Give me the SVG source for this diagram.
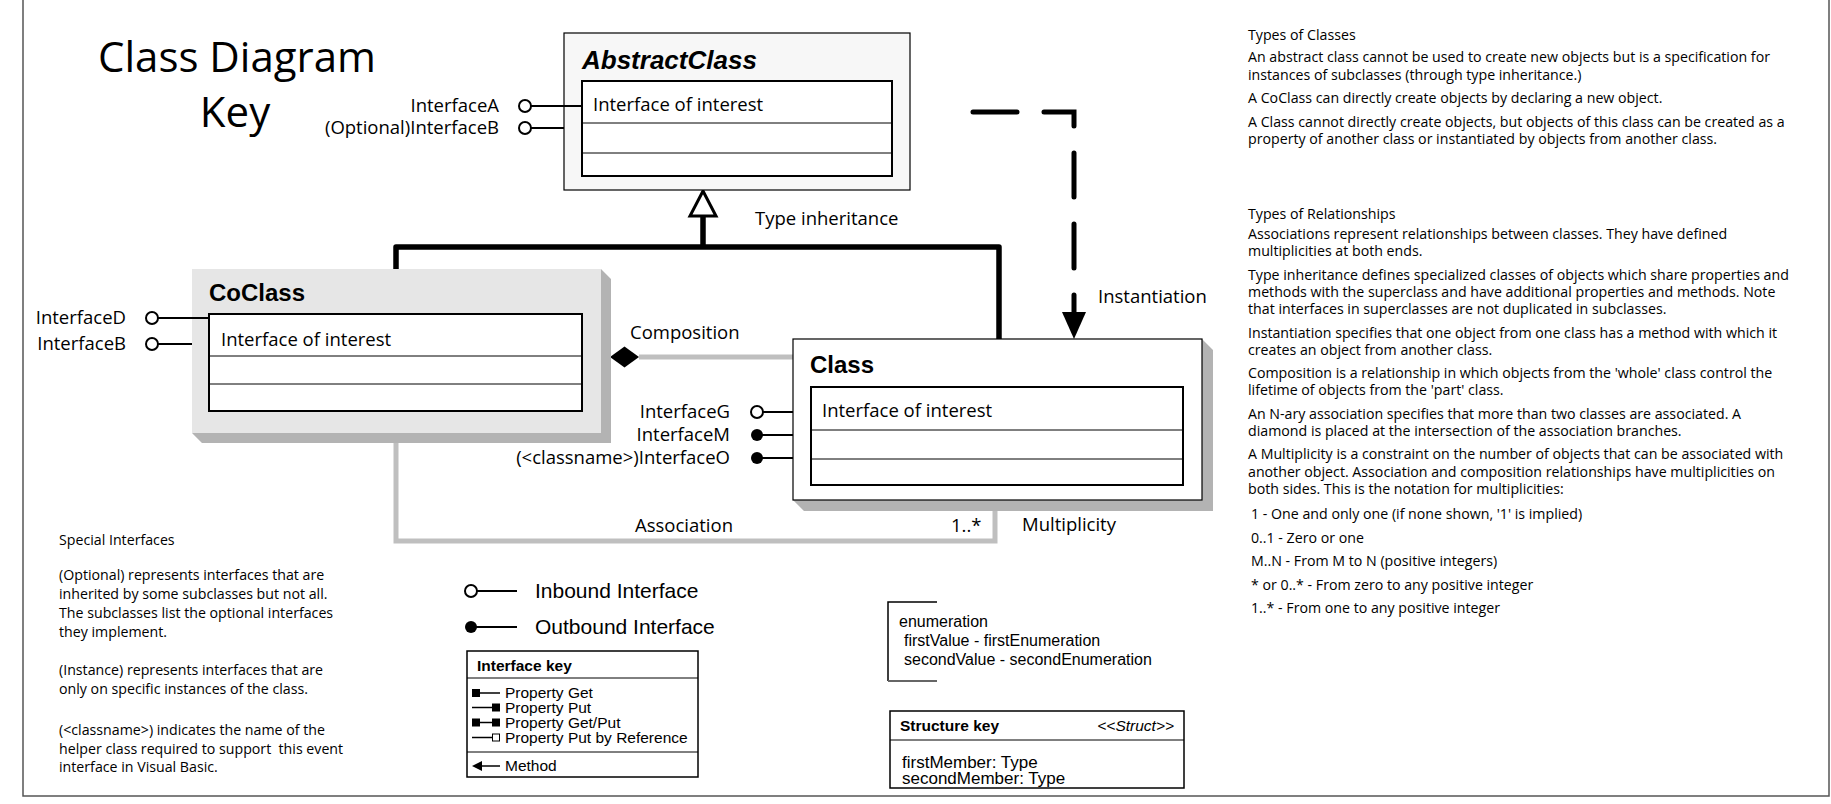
<svg xmlns="http://www.w3.org/2000/svg" width="1831" height="804" viewBox="0 0 1831 804">
<style>
.t{font-family:"Open Sans","Noto Sans",sans-serif;fill:#000}
.lbl{font-size:18.5px}
.note{font-size:14.2px;white-space:pre}
.end{text-anchor:end}
.a{font-family:"Liberation Sans",Arial,sans-serif;fill:#000}
.ttl{font-weight:bold;font-size:24px}
.box{fill:#fff;stroke:#000;stroke-width:2}
.row{stroke:#000;stroke-width:1}
.stem{stroke:#000;stroke-width:2}
.hollow{fill:#fff;stroke:#000;stroke-width:2}
.solid{fill:#000}
.gray{fill:none;stroke:#bfbfbf;stroke-width:5}
.thick{fill:none;stroke:#000;stroke-width:5.5;stroke-linejoin:round}
.bevel{fill:#b3b3b3}
.key{font-size:15.5px}
</style>
<rect x="0" y="0" width="1831" height="804" fill="#fff"/>
<rect x="23" y="-10" width="1806" height="806" fill="none" stroke="#555" stroke-width="1.5"/>

<g id="title">
<text class="t" x="237" y="72" font-size="42" text-anchor="middle">Class Diagram</text>
<text class="t" x="235" y="127" font-size="42" text-anchor="middle">Key</text>
</g>

<g id="connectors">
<polygon points="703,191 716,216 690,216" fill="#fff" stroke="#000" stroke-width="3"/>
<path class="thick" d="M703,216 V247 M396,269 V247 H999 V339"/>
<path d="M973,112 H1074 V312" fill="none" stroke="#000" stroke-width="5" stroke-dasharray="44 27" stroke-linecap="round"/>
<polygon points="1062,312 1086,312 1074,339" fill="#000"/>
<path class="gray" d="M639,357 H793"/>
<polygon points="610,357 624.5,346.5 639,357 624.5,367.5" fill="#000"/>
<path class="gray" d="M396,433 V541 H995 V511"/>
<text class="t lbl" x="755" y="225">Type inheritance</text>
<text class="t lbl" x="1098" y="303">Instantiation</text>
<text class="t lbl" x="630" y="339">Composition</text>
<text class="t lbl" x="635" y="532">Association</text>
<text class="t lbl" x="951" y="532">1..*</text>
<text class="t lbl" x="1022" y="531">Multiplicity</text>
</g>

<g id="AbstractClass">
<rect x="564" y="33" width="346" height="157" fill="#f7f7f7" stroke="#000" stroke-width="1.2"/>
<text class="a" x="582" y="69" font-size="26" font-weight="bold" font-style="italic">AbstractClass</text>
<rect class="box" x="582" y="81" width="310" height="95"/>
<line class="row" x1="582" y1="123" x2="892" y2="123"/>
<line class="row" x1="582" y1="153" x2="892" y2="153"/>
<text class="t lbl" x="593" y="111">Interface of interest</text>
<line class="stem" x1="531" y1="106" x2="582" y2="106"/>
<circle class="hollow" cx="525" cy="106" r="6"/>
<text class="t lbl end" x="499" y="112">InterfaceA</text>
<line class="stem" x1="531" y1="128" x2="564" y2="128"/>
<circle class="hollow" cx="525" cy="128" r="6"/>
<text class="t lbl end" x="499" y="134">(Optional)InterfaceB</text>
</g>

<g id="CoClass">
<polygon class="bevel" points="601,269 611,279 611,443 202,443 192,433 601,433"/>
<rect x="192" y="269" width="409" height="164" fill="#e6e6e6"/>
<text class="a ttl" x="209" y="301">CoClass</text>
<rect class="box" x="209" y="314" width="373" height="97"/>
<line class="row" x1="209" y1="356" x2="582" y2="356"/>
<line class="row" x1="209" y1="384" x2="582" y2="384"/>
<text class="t lbl" x="221" y="346">Interface of interest</text>
<line class="stem" x1="158" y1="318" x2="209" y2="318"/>
<circle class="hollow" cx="152" cy="318" r="6"/>
<text class="t lbl end" x="126" y="324">InterfaceD</text>
<line class="stem" x1="158" y1="344" x2="192" y2="344"/>
<circle class="hollow" cx="152" cy="344" r="6"/>
<text class="t lbl end" x="126" y="350">InterfaceB</text>
</g>

<g id="Class">
<polygon class="bevel" points="1202,339 1213,350 1213,511 804,511 793,500 1202,500"/>
<rect x="793" y="339" width="409" height="161" fill="#fff" stroke="#000" stroke-width="1.2"/>
<text class="a ttl" x="810" y="373">Class</text>
<rect class="box" x="811" y="387" width="372" height="98"/>
<line class="row" x1="811" y1="430" x2="1183" y2="430"/>
<line class="row" x1="811" y1="459" x2="1183" y2="459"/>
<text class="t lbl" x="822" y="417">Interface of interest</text>
<line class="stem" x1="763" y1="412" x2="793" y2="412"/>
<circle class="hollow" cx="757" cy="412" r="6"/>
<text class="t lbl end" x="730" y="418">InterfaceG</text>
<line class="stem" x1="757" y1="435" x2="793" y2="435"/>
<circle class="solid" cx="757" cy="435" r="6"/>
<text class="t lbl end" x="730" y="441">InterfaceM</text>
<line class="stem" x1="757" y1="458" x2="793" y2="458"/>
<circle class="solid" cx="757" cy="458" r="6"/>
<text class="t lbl end" x="730" y="464">(&lt;classname&gt;)InterfaceO</text>
</g>

<g id="interface-legend">
<line class="stem" x1="477" y1="591" x2="517" y2="591" stroke-width="1.5"/>
<circle class="hollow" cx="471" cy="591" r="6" stroke-width="1.5"/>
<text class="a" x="535" y="598" font-size="21">Inbound Interface</text>
<line class="stem" x1="471" y1="627" x2="517" y2="627" stroke-width="1.5"/>
<circle class="solid" cx="471" cy="627" r="6"/>
<text class="a" x="535" y="634" font-size="21">Outbound Interface</text>
</g>

<g id="interface-key">
<rect x="467" y="651" width="231" height="126" fill="#fff" stroke="#000" stroke-width="1.5"/>
<text class="a key" x="477" y="671" font-weight="bold">Interface key</text>
<line x1="467" y1="678" x2="698" y2="678" stroke="#000" stroke-width="1"/>
<rect x="472" y="689" width="8" height="8" fill="#000"/>
<line x1="480" y1="693" x2="500" y2="693" stroke="#000" stroke-width="1.5"/>
<text class="a key" x="505" y="698">Property Get</text>
<line x1="472" y1="707.5" x2="492" y2="707.5" stroke="#000" stroke-width="1.5"/>
<rect x="492" y="703.5" width="8" height="8" fill="#000"/>
<text class="a key" x="505" y="712.5">Property Put</text>
<rect x="472" y="718.5" width="8" height="8" fill="#000"/>
<line x1="480" y1="722.5" x2="492" y2="722.5" stroke="#000" stroke-width="1.5"/>
<rect x="492" y="718.5" width="8" height="8" fill="#000"/>
<text class="a key" x="505" y="727.5">Property Get/Put</text>
<line x1="472" y1="737.5" x2="492" y2="737.5" stroke="#000" stroke-width="1.5"/>
<rect x="492.5" y="734" width="7" height="7" fill="#fff" stroke="#000" stroke-width="1"/>
<text class="a key" x="505" y="742.5">Property Put by Reference</text>
<line x1="467" y1="752" x2="698" y2="752" stroke="#000" stroke-width="1"/>
<polygon points="472,766 482,761 482,771" fill="#000"/>
<line x1="482" y1="766" x2="500" y2="766" stroke="#000" stroke-width="1.5"/>
<text class="a key" x="505" y="771">Method</text>
</g>

<g id="enumeration">
<path d="M937,602 H888 V681" fill="none" stroke="#000" stroke-width="1.5"/>
<path d="M888,681 H937" fill="none" stroke="#666" stroke-width="2.2"/>
<text class="a" x="899" y="627" font-size="16">enumeration</text>
<text class="a" x="904" y="646" font-size="16">firstValue - firstEnumeration</text>
<text class="a" x="904" y="665" font-size="16">secondValue - secondEnumeration</text>
</g>

<g id="structure-key">
<rect x="890" y="711" width="294" height="77" fill="#fff" stroke="#000" stroke-width="1.5"/>
<text class="a" x="900" y="731" font-size="15.5" font-weight="bold">Structure key</text>
<text class="a" x="1174" y="731" font-size="15.5" font-style="italic" text-anchor="end">&lt;&lt;Struct&gt;&gt;</text>
<line x1="890" y1="740" x2="1184" y2="740" stroke="#000" stroke-width="1"/>
<text class="a" x="902" y="768" font-size="17">firstMember: Type</text>
<text class="a" x="902" y="784" font-size="17">secondMember: Type</text>
</g>

<g id="special-interfaces">
<text class="t note" x="59" y="545">Special Interfaces</text>
<text class="t note" x="59" y="580">(Optional) represents interfaces that are</text>
<text class="t note" x="59" y="599">inherited by some subclasses but not all.</text>
<text class="t note" x="59" y="618">The subclasses list the optional interfaces</text>
<text class="t note" x="59" y="637">they implement.</text>
<text class="t note" x="59" y="675">(Instance) represents interfaces that are</text>
<text class="t note" x="59" y="694">only on specific instances of the class.</text>
<text class="t note" x="59" y="735">(&lt;classname&gt;) indicates the name of the</text>
<text class="t note" x="59" y="754">helper class required to support  this event</text>
<text class="t note" x="59" y="772">interface in Visual Basic.</text>
</g>

<g id="class-notes">
<text class="t note" x="1248" y="40">Types of Classes</text>
<text class="t note" x="1248" y="62">An abstract class cannot be used to create new objects but is a specification for</text>
<text class="t note" x="1248" y="79.5">instances of subclasses (through type inheritance.)</text>
<text class="t note" x="1248" y="103">A CoClass can directly create objects by declaring a new object.</text>
<text class="t note" x="1248" y="126.5">A Class cannot directly create objects, but objects of this class can be created as a</text>
<text class="t note" x="1248" y="144">property of another class or instantiated by objects from another class.</text>
</g>

<g id="relationship-notes">
<text class="t note" x="1248" y="218.5">Types of Relationships</text>
<text class="t note" x="1248" y="239">Associations represent relationships between classes. They have defined</text>
<text class="t note" x="1248" y="256.3">multiplicities at both ends.</text>
<text class="t note" x="1248" y="279.6">Type inheritance defines specialized classes of objects which share properties and</text>
<text class="t note" x="1248" y="296.9">methods with the superclass and have additional properties and methods. Note</text>
<text class="t note" x="1248" y="314.2">that interfaces in superclasses are not duplicated in subclasses.</text>
<text class="t note" x="1248" y="337.5">Instantiation specifies that one object from one class has a method with which it</text>
<text class="t note" x="1248" y="354.8">creates an object from another class.</text>
<text class="t note" x="1248" y="378.1">Composition is a relationship in which objects from the 'whole' class control the</text>
<text class="t note" x="1248" y="395.4">lifetime of objects from the 'part' class.</text>
<text class="t note" x="1248" y="418.7">An N-ary association specifies that more than two classes are associated. A</text>
<text class="t note" x="1248" y="436">diamond is placed at the intersection of the association branches.</text>
<text class="t note" x="1248" y="459.3">A Multiplicity is a constraint on the number of objects that can be associated with</text>
<text class="t note" x="1248" y="476.6">another object. Association and composition relationships have multiplicities on</text>
<text class="t note" x="1248" y="493.9">both sides. This is the notation for multiplicities:</text>
<text class="t note" x="1251" y="519">1 - One and only one (if none shown, '1' is implied)</text>
<text class="t note" x="1251" y="542.5">0..1 - Zero or one</text>
<text class="t note" x="1251" y="566">M..N - From M to N (positive integers)</text>
<text class="t note" x="1251" y="589.5">* or 0..* - From zero to any positive integer</text>
<text class="t note" x="1251" y="613">1..* - From one to any positive integer</text>
</g>
</svg>
